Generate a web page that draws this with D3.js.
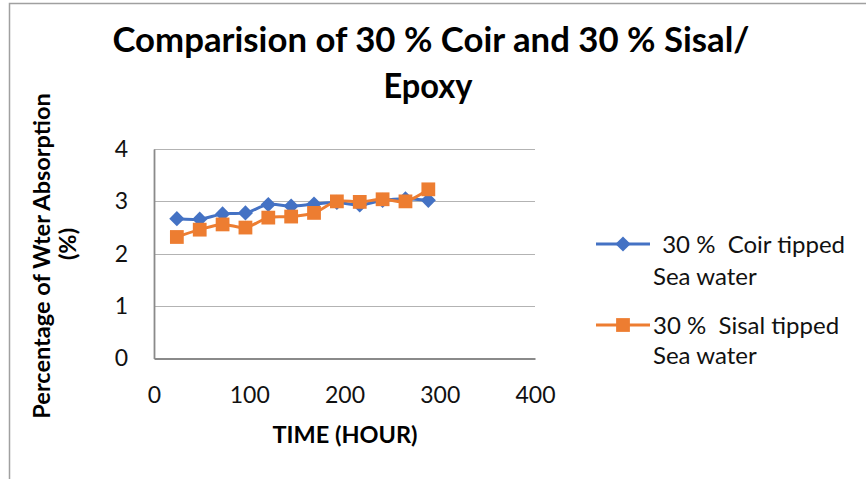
<!DOCTYPE html>
<html>
<head>
<meta charset="utf-8">
<script src="https://cdn.jsdelivr.net/npm/d3@7"></script>
<style>
  html, body { margin: 0; padding: 0; background: #fff; }
  svg { display: block; }
</style>
</head>
<body>
<div class="wrapper"></div>
<script>
// chart data
var hours = [24, 48, 72, 96, 120, 144, 168, 192, 216, 240, 264, 288];
var coirValues = [2.67, 2.66, 2.76, 2.78, 2.94, 2.91, 2.95, 2.98, 2.93, 3.02, 3.05, 3.02];
var sisalValues = [2.32, 2.46, 2.56, 2.50, 2.69, 2.71, 2.78, 3.00, 2.99, 3.04, 3.00, 3.23];
var xTicks = [0, 100, 200, 300, 400];
var yTicks = [0, 1, 2, 3, 4];
var seriesNames = [
  ["\u00a030 %  Coir tipped", "Sea water"],
  ["30 %  Sisal tipped", "Sea water"]
];
var titleLines = ["Comparision of 30 % Coir and 30 % Sisal/", "Epoxy"];
var yTitleLines = ["Percentage of Wter Absorption", "(%)"];
var xTitle = "TIME (HOUR)";

var width = 866, height = 479;
var plot = { left: 154, right: 535, top: 149, bottom: 358.5 };
var colors = ["#4472c4", "#ed7d31"];
var font = "Lato, 'Open Sans', sans-serif";

var svg = d3.select(".wrapper").append("svg")
  .attr("width", width)
  .attr("height", height);

svg.append("rect").attr("width", width).attr("height", height).attr("fill", "#fff");

// chart border (only top and left edges show in the picture)
svg.append("path")
  .attr("d", "M9.5," + height + " V3.5 H" + width)
  .attr("fill", "none")
  .attr("stroke", "#a0a0a0")
  .attr("stroke-width", 1.5);

var x = d3.scaleLinear().domain([0, 400]).range([plot.left, plot.right]);
var y = d3.scaleLinear().domain([0, 4]).range([plot.bottom, plot.top]);

// gridlines
svg.append("g")
  .selectAll("line")
  .data(yTicks.slice(1))
  .join("line")
  .attr("x1", plot.left)
  .attr("x2", plot.right)
  .attr("y1", d => Math.round(y(d)) + 0.5)
  .attr("y2", d => Math.round(y(d)) + 0.5)
  .attr("stroke", "#b3b3b3")
  .attr("stroke-width", 1.2);

// axes
var xAxis = svg.append("g")
  .attr("transform", "translate(0," + plot.bottom + ")")
  .call(d3.axisBottom(x).tickValues(xTicks).tickSize(0).tickFormat(d3.format("d")));
var yAxis = svg.append("g")
  .attr("transform", "translate(" + plot.left + ",0)")
  .call(d3.axisLeft(y).tickValues(yTicks).tickSize(0).tickPadding(26).tickFormat(d3.format("d")));

[xAxis, yAxis].forEach(a => {
  a.select(".domain").attr("stroke", "#8a8a8a").attr("stroke-width", 1.8);
  a.selectAll("text")
    .attr("font-family", font)
    .attr("font-size", 23)
    .attr("fill", "#111");
});
xAxis.selectAll("text").attr("dy", "0.35em").attr("y", 36);

// series lines
var line = d3.line()
  .x((d, i) => x(hours[i]))
  .y(d => y(d))
  .curve(d3.curveCatmullRom);

var series = [coirValues, sisalValues];
// Excel diamonds are square-ish, so rotate a square by 45 degrees
var diamond = d3.symbol().type(d3.symbolSquare).size(115);
var square = d3.symbol().type(d3.symbolSquare).size(190);
var markerRot = [45, 0];

series.forEach((values, s) => {
  var g = svg.append("g");
  g.append("path")
    .datum(values)
    .attr("d", line)
    .attr("fill", "none")
    .attr("stroke", colors[s])
    .attr("stroke-width", 3);
  g.selectAll(".marker")
    .data(values)
    .join("path")
    .attr("class", "marker")
    .attr("transform", (d, i) => "translate(" + x(hours[i]) + "," + y(d) + ") rotate(" + markerRot[s] + ")")
    .attr("d", s === 0 ? diamond : square)
    .attr("fill", colors[s]);
});

// title
var titleG = svg.append("g")
  .attr("font-family", font)
  .attr("font-weight", "bold")
  .attr("font-size", 34)
  .attr("fill", "#000")
  .attr("text-anchor", "middle");
titleG.append("text")
  .attr("x", 431).attr("y", 52)
  .attr("textLength", 637).attr("lengthAdjust", "spacingAndGlyphs")
  .text(titleLines[0]);
titleG.append("text")
  .attr("x", 428).attr("y", 98)
  .attr("textLength", 89).attr("lengthAdjust", "spacingAndGlyphs")
  .text(titleLines[1]);

// y axis title
var yTitle = svg.append("g")
  .attr("font-family", font)
  .attr("font-weight", "bold")
  .attr("font-size", 23.5)
  .attr("fill", "#000")
  .attr("text-anchor", "middle");
yTitle.append("text")
  .attr("transform", "translate(50,256) rotate(-90)")
  .text(yTitleLines[0]);
yTitle.append("text")
  .attr("transform", "translate(76,244) rotate(-90)")
  .text(yTitleLines[1]);

// x axis title
svg.append("text")
  .attr("x", 345).attr("y", 443)
  .attr("font-family", font)
  .attr("font-weight", "bold")
  .attr("font-size", 23.5)
  .attr("text-anchor", "middle")
  .attr("fill", "#000")
  .text(xTitle);

// legend
var legendRows = [
  { lineY: 244, textX: 656, y1: 253, y2: 285 },
  { lineY: 325, textX: 653, y1: 334, y2: 364 }
];
legendRows.forEach((row, s) => {
  var lg = svg.append("g");
  lg.append("line")
    .attr("x1", 596).attr("x2", 650)
    .attr("y1", row.lineY).attr("y2", row.lineY)
    .attr("stroke", colors[s])
    .attr("stroke-width", 3);
  lg.append("path")
    .attr("transform", "translate(623," + row.lineY + ") rotate(" + markerRot[s] + ")")
    .attr("d", s === 0 ? diamond : square)
    .attr("fill", colors[s]);
  var t = lg.append("text")
    .attr("font-family", font)
    .attr("font-size", 24)
    .attr("fill", "#111")
    .style("white-space", "pre");
  t.append("tspan").attr("x", row.textX).attr("y", row.y1).text(seriesNames[s][0]);
  t.append("tspan").attr("x", 653).attr("y", row.y2).text(seriesNames[s][1]);
});
</script>
</body>
</html>
